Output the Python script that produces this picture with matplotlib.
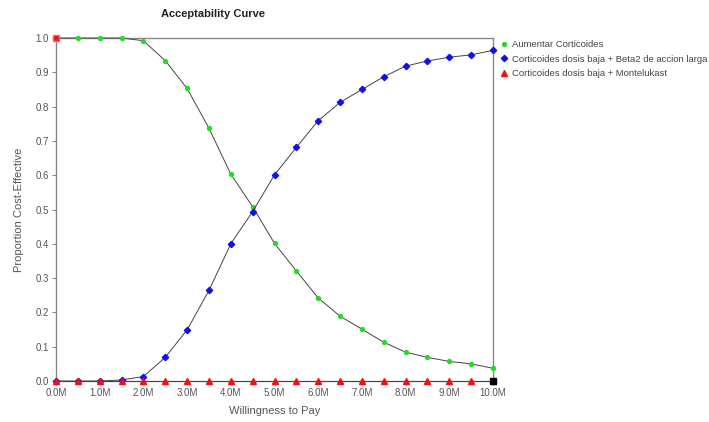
import matplotlib
matplotlib.use("Agg")
import matplotlib.pyplot as plt
from matplotlib.ticker import FuncFormatter

wtp = [0.0, 0.5, 1.0, 1.5, 2.0, 2.5, 3.0, 3.5, 4.0, 4.5, 5.0, 5.5, 6.0, 6.5, 7.0, 7.5, 8.0, 8.5, 9.0, 9.5, 10.0]
aumentar = [1.0, 1.0, 1.0, 1.0, 0.992, 0.934, 0.853, 0.737, 0.603, 0.508, 0.401, 0.321, 0.242, 0.189, 0.151,
            0.113, 0.084, 0.069, 0.057, 0.050, 0.037]
beta2 = [0.0, 0.0, 0.0, 0.003, 0.013, 0.069, 0.149, 0.264, 0.400, 0.494, 0.601, 0.681, 0.759, 0.812, 0.850,
         0.887, 0.918, 0.933, 0.944, 0.951, 0.964]
montelukast = [0.0] * 21
series_names = ["Aumentar Corticoides", "Corticoides dosis baja + Beta2 de accion larga",
                "Corticoides dosis baja + Montelukast"]

plt.rcParams['font.family'] = ['Liberation Sans', 'DejaVu Sans']

fig = plt.figure(figsize=(7.09, 4.22), dpi=100)
ax = fig.add_axes([56/709, 1-381/422, (493-56)/709, (381-38)/422])

lc = '#444444'
ax.plot(wtp, aumentar, color=lc, lw=0.7, marker='o', ms=2.8, mfc='#22dd22', mec='#22dd22',
        label=series_names[0], zorder=3, clip_on=False)
ax.plot(wtp, beta2, color=lc, lw=0.7, marker='D', ms=3.2, mfc='#1010ee', mec='#1010ee',
        label=series_names[1], zorder=3, clip_on=False)
ax.plot(wtp, montelukast, color=lc, lw=0.7, marker='^', ms=5.0, mfc='#ee1111', mec='#ee1111',
        label=series_names[2], zorder=4, clip_on=False)
# corner markers
ax.plot([wtp[0]], [1.0], marker='s', ms=5, mfc='#ee1111', mec='#ff6666', ls='none', clip_on=False, zorder=5)
ax.plot([wtp[-1]], [0.0], marker='s', ms=5, mfc='black', mec='black', ls='none', clip_on=False, zorder=5)

ax.set_xlim(0, 10)
ax.set_ylim(0, 1.0)
ax.set_xticks(wtp[::2])
ax.xaxis.set_major_formatter(FuncFormatter(lambda v, p: f"{v:.1f}M"))
ax.set_yticks([i/10 for i in range(11)])
ax.yaxis.set_major_formatter(FuncFormatter(lambda v, p: f"{v:.1f}"))
for s in ax.spines.values():
    s.set_color('#888888')
    s.set_linewidth(1.0)
ax.tick_params(axis='both', colors='#888888', labelcolor='#555555', labelsize=7, length=3, width=0.8, pad=2)

ax.set_xlabel("Willingness to Pay", fontsize=8, color='#555555', labelpad=6)
ax.set_ylabel("Proportion Cost-Effective", fontsize=8, color='#555555', labelpad=8)
fig.text(213/709, 1-14/422, "Acceptability Curve", ha='center', va='center', fontsize=8, fontweight='bold',
         color='#222222')

leg = ax.legend(loc='upper left', bbox_to_anchor=(1.01, 1.005), frameon=False, fontsize=6.8, handlelength=0.6,
                handletextpad=0.6, labelspacing=0.6, borderaxespad=0)
for h in leg.legend_handles:
    h.set_linestyle('none')
for t in leg.get_texts():
    t.set_color('#444444')

fig.savefig("out.png", dpi=100)
